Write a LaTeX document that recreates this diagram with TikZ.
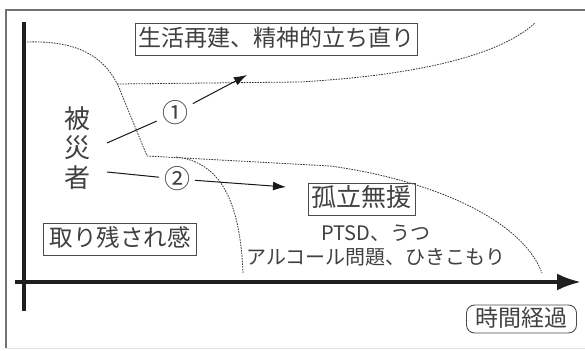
\documentclass[tikz,border=0pt]{standalone}
\usepackage{fontspec}
\setmainfont{Noto Sans CJK JP}
\usetikzlibrary{arrows.meta}
\begin{document}
\begin{tikzpicture}[x=1pt,y=-1pt,
  lbl/.style={draw=black!70, line width=0.9pt, inner ysep=4.5pt, text=black!75, text height=19pt, text depth=4pt},
  num/.style={circle, inner sep=0pt, text=black!75, font=\fontsize{26}{26}\selectfont},
  dline/.style={dash pattern=on 1.6pt off 1.1pt, line width=0.8pt, black!80},
  arr/.style={line width=1pt, black!90},
  tip/.style={-{Latex[length=13pt,width=9pt]}}]
\useasboundingbox (0,0) rectangle (585,350);
% frame
\draw[black!55, line width=1.2pt] (600,10) -- (6,10) -- (6,348);
\draw[black!12, line width=1pt] (6,348) -- (600,348);
% axes
\draw[line width=3.6pt, black!88] (24,22) -- (24,311);
\draw[line width=3.6pt, black!88, -{Latex[length=24pt,width=17pt]}] (15,282) -- (581,282);
% dashed curves
\draw[dline] (27,42) .. controls (85,40) and (110,62) .. (122,95) -- (147,156) -- (330,166) .. controls (420,178) and (520,215) .. (542,273);
\draw[dline] (117,84) -- (300,82) .. controls (420,75) and (500,55) .. (535,23);
\draw[dline] (176,157) .. controls (220,162) and (240,200) .. (243,273);
% labels
\node[lbl, inner xsep=3pt, font=\fontsize{23}{23}\selectfont] (t1) at (276,39) {生活再建、精神的立ち直り};
\node[align=center, text=black!75, font=\fontsize{26}{29.5}\selectfont] (hs) at (77,148) {被\\災\\者};
\node[lbl, inner xsep=6pt, font=\fontsize{23.5}{23.5}\selectfont] (t2) at (120,239) {取り残され感};
\node[lbl, inner xsep=3.5pt, font=\fontsize{25}{25}\selectfont] (t3) at (361.5,199) {孤立無援};
\node[align=center, text=black!75, font=\fontsize{20}{24}\selectfont] (t4) at (376,245) {PTSD、うつ\\アルコール問題、ひきこもり};
\node[lbl, rounded corners=8pt, inner xsep=9pt, inner ysep=3.5pt, text height=18pt, text depth=3pt, font=\fontsize{23}{23}\selectfont] (t5) at (521.5,319) {時間経過};
% arrows
\node[num, inner sep=1.5pt] (n1) at (175,113) {①};
\node[num] (n2) at (177,179) {②};
\coordinate (a1s) at (107,143);
\coordinate (a1e) at (247,75);
\coordinate (a2s) at (107,172);
\coordinate (a2e) at (286,187);
\draw[arr] (a1s) -- (n1);
\draw[arr, tip] (n1) -- (a1e);
\draw[arr] (a2s) -- (n2);
\draw[arr, tip] (n2) -- (a2e);
\end{tikzpicture}
\end{document}
